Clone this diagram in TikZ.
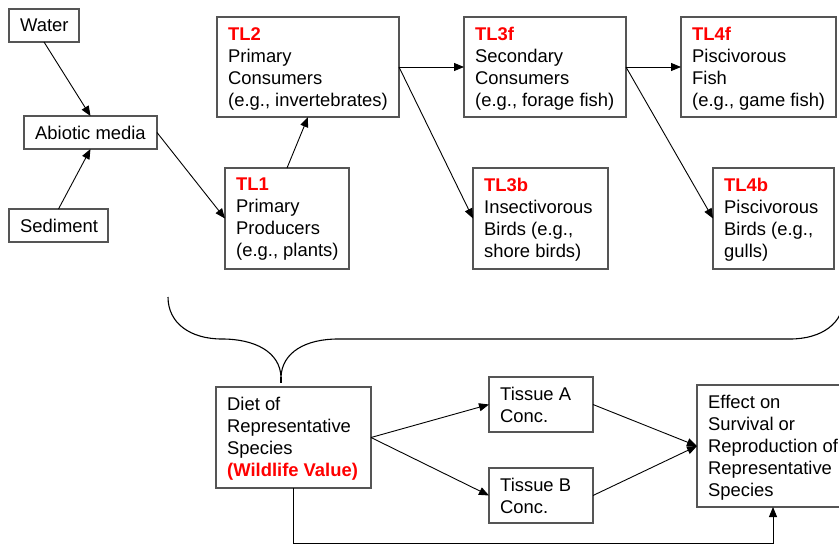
\documentclass[tikz,border=0pt]{standalone}
\usepackage{fontspec}
\setmainfont{Liberation Sans}
\usetikzlibrary{arrows.meta,calc}

\definecolor{boxgray}{HTML}{555555}
\definecolor{tlred}{HTML}{FF0000}

\tikzset{
  box/.style={draw=boxgray, line width=1.3pt, rectangle, anchor=north west,
              inner sep=0pt, outer sep=0pt},
  boxtext/.style={anchor=north west, inner sep=0pt, align=left,
                  font=\fontsize{18.4}{22}\selectfont},
  conn/.style={draw=black, line width=0.9pt, -{Triangle[length=10pt,width=8pt]}},
  bracepath/.style={draw=black, line width=1.1pt},
}

% red bold trophic-level tag
\newcommand\trophic[1]{\textcolor{tlred}{\textbf{#1}}}

% box with top-left aligned text: name, x, y, width, height, text
\newcommand\fwbox[6]{%
  \node[box, minimum width=#4pt, minimum height=#5pt] (#1) at (#2,#3) {};
  \node[boxtext] (#1-t) at ($(#1.north west)+(11,10)$) {#6};
}

\begin{document}
\begin{tikzpicture}[x=1pt,y=-1pt]
  \clip (0,0) rectangle (839,544);
  \fill[white] (0,0) rectangle (839,544);

  % exposure media
  \fwbox{water}{9}{9}{70}{33}{Water}
  \fwbox{abiotic}{24}{116}{133}{33}{Abiotic media}
  \fwbox{sediment}{9}{209}{99}{33}{Sediment}

  % food web trophic levels
  \fwbox{tl1}{225}{168}{124}{101}{\trophic{TL1}\\Primary\\Producers\\(e.g., plants)}
  \fwbox{tl2}{217}{17}{182}{100}{\trophic{TL2}\\Primary\\Consumers\\(e.g., invertebrates)}
  \fwbox{tl3f}{464}{17}{162}{100}{\trophic{TL3f}\\Secondary\\Consumers\\(e.g., forage fish)}
  \fwbox{tl4f}{681}{17}{155}{100}{\trophic{TL4f}\\Piscivorous\\Fish\\(e.g., game fish)}
  \fwbox{tl3b}{473}{168}{135}{101}{\trophic{TL3b}\\Insectivorous\\Birds (e.g.,\\shore birds)}
  \fwbox{tl4b}{713}{168}{121}{101}{\trophic{TL4b}\\Piscivorous\\Birds (e.g.,\\gulls)}

  % assessment chain
  \fwbox{diet}{216}{387}{155}{101}{Diet of\\Representative\\Species\\\textcolor{tlred}{\textbf{(Wildlife Value)}}}
  \fwbox{tissA}{489}{377}{104}{55}{Tissue A\\Conc.}
  \fwbox{tissB}{489}{468}{104}{55}{Tissue B\\Conc.}
  \fwbox{effect}{697}{385}{152}{122}{Effect on\\Survival or\\Reproduction of\\Representative\\Species}

  % connectors of the food web
  \draw[conn] (water.south) -- (abiotic.north);
  \draw[conn] (sediment.north) -- (abiotic.south);
  \draw[conn] (abiotic.east) -- (tl1.west);
  \draw[conn] (tl1.north) -- (tl2.south);
  \draw[conn] (tl2.east) -- (tl3f.west);
  \draw[conn] (tl2.east) -- (tl3b.west);
  \draw[conn] (tl3f.east) -- (tl4f.west);
  \draw[conn] (tl3f.east) -- (tl4b.west);

  % connectors of the assessment chain
  \draw[conn] (diet.east) -- (tissA.west);
  \draw[conn] (diet.east) -- (tissB.west);
  \draw[conn] (tissA.east) -- (effect.west);
  \draw[conn] (tissB.east) -- (effect.west);
  \draw[conn] (diet.south) -- ++(0,55) -| (effect.south);

  % brace gathering the food web into the diet box
  \coordinate (brL) at (168,297);
  \coordinate (brTip) at (281,377);
  \coordinate (brR) at (844,297);
  \draw[bracepath] (brL) .. controls (168,323) and (190,339) .. (222,339)
    .. controls (255,339) and (280,352) .. (brTip)
    .. controls (282,352) and (306,339) .. (338,339)
    -- (790,339)
    .. controls (822,339) and (844,323) .. (brR);
  \draw[black, line width=2pt] (brTip) -- ++(0,6);
\end{tikzpicture}
\end{document}
